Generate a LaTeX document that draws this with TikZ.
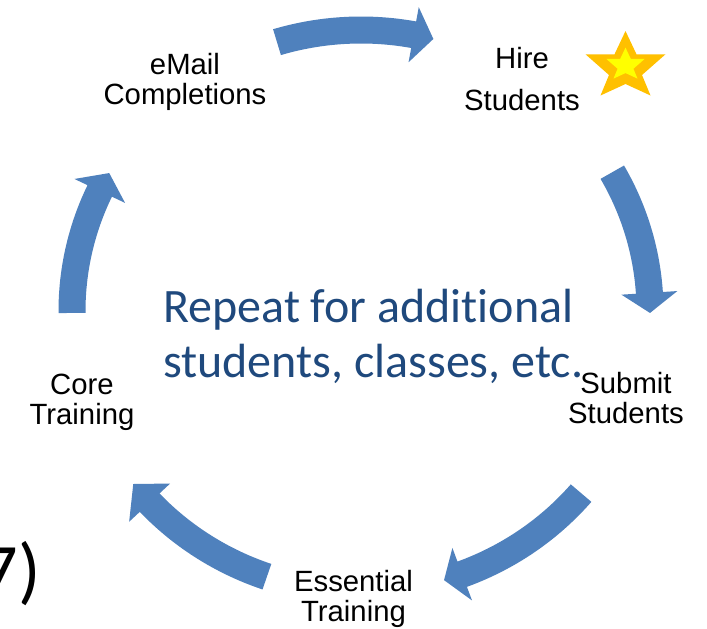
\documentclass[tikz,border=0pt]{standalone}
\usepackage{fontspec}
\setmainfont{Liberation Sans}
\newfontfamily\calfont[Ligatures=NoCommon]{Carlito}
\definecolor{arrowblue}{HTML}{4F81BD}
\definecolor{textblue}{HTML}{1F497D}
\definecolor{stargold}{HTML}{FFC000}
\definecolor{staryellow}{HTML}{FFFF00}
\def\ecx{361}
\def\ecy{311}
\def\erx{289}
\def\ery{281}
\newcommand{\cycArrow}[3]{%
  \fill[arrowblue] plot[domain=#1:#2,samples=40] ({\ecx+(\erx+13.5)*cos(\x)},{\ecy-(\ery+13.5)*sin(\x)})
    -- ({\ecx+(\erx+28)*cos(#2)},{\ecy-(\ery+28)*sin(#2)})
    -- ({\ecx+\erx*cos(#3)},{\ecy-\ery*sin(#3)})
    -- ({\ecx+(\erx-28)*cos(#2)},{\ecy-(\ery-28)*sin(#2)})
    -- plot[domain=#2:#1,samples=40] ({\ecx+(\erx-13.5)*cos(\x)},{\ecy-(\ery-13.5)*sin(\x)})
    -- cycle;}
\newcommand{\starPath}{(0,-32) -- (11,-8.7) -- (40,-8.7) -- (16.5,12) -- (25,32.5) -- (0,21) -- (-25,32.5) -- (-16.5,12) -- (-40,-8.7) -- (-11,-8.7) -- cycle}
\tikzset{
  lbl/.style={anchor=base, align=center, inner sep=0pt, font=\fontsize{29.3}{30}\selectfont, text=black},
}
\begin{document}
\begin{tikzpicture}[x=1pt,y=-1pt]
\useasboundingbox (0,0) rectangle (707,629);
\fill[white] (0,0) rectangle (707,629);
% cycle arrows
\cycArrow{106.9}{79.5}{75.5}
\cycArrow{29.6}{3.7}{-0.4}
\cycArrow{-40.4}{-69.5}{-73.3}
\cycArrow{-109}{-137}{-142}
\cycArrow{180.4}{154.7}{150.6}
% centre text
\node[anchor=base west, align=left, inner sep=0pt, text=textblue,
      font=\calfont\fontsize{48}{55}\selectfont] (repeat) at (163,377)
      {Repeat for additional\\students, classes, etc.};
% labels (base anchor = baseline of last line)
\node[lbl] (email) at (185,104) {eMail\\Completions};
\node[lbl, font=\fontsize{29.3}{42}\selectfont] (hire) at (522,110) {Hire\\Students};
\node[lbl] (submit) at (626,423) {Submit\\Students};
\node[lbl] (essential) at (353.5,621) {Essential\\Training};
\node[lbl] (core) at (82,424) {Core\\Training};
% star
\begin{scope}[shift={(625.5,63)}]
  \fill[stargold] \starPath;
  \fill[staryellow, scale=0.48] \starPath;
\end{scope}
% partial text at left edge
\node[anchor=base east, inner sep=0pt, font=\calfont\fontsize{74}{80}\selectfont] (seven) at (41,595) {7)};
\end{tikzpicture}
\end{document}
